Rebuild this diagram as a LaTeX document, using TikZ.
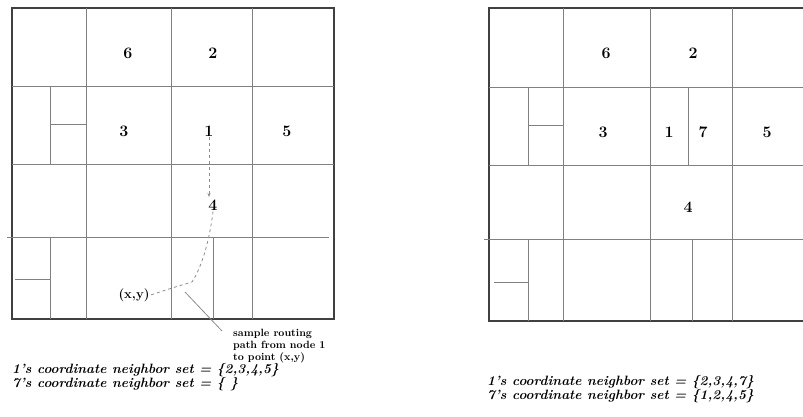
\documentclass[tikz,border=0pt]{standalone}
\usetikzlibrary{arrows.meta}
\begin{document}
\begin{tikzpicture}[x=1pt,y=-1pt,
    frame/.style={line width=1.8pt,draw=black!75},
    cell/.style={line width=0.9pt,draw=black!50},
    zone/.style={font=\fontsize{16}{16}\selectfont\bfseries,inner sep=1pt},
    route/.style={dashed,line width=0.8pt,draw=black!45},
    setlist/.style={font=\fontsize{13.5}{11}\selectfont\bfseries\itshape,align=left,inner sep=0pt,anchor=north west}]
  \useasboundingbox (0,0) rectangle (803,416);

  % before node 7 joins
  \draw[frame] (12,8) rectangle (334,319);
  \draw[cell] (86,8) -- (86,319);
  \draw[cell] (171,8) -- (171,319);
  \draw[cell] (252,8) -- (252,319);
  \draw[cell] (12,86) -- (334,86);
  \draw[cell] (12,164) -- (334,164);
  \draw[cell] (7,237) -- (329,237);
  \draw[cell] (50,86) -- (50,164);
  \draw[cell] (50,124) -- (86,124);
  \draw[cell] (50,237) -- (50,319);
  \draw[cell] (15,279) -- (50,279);
  \draw[cell] (213,237) -- (213,319);
  \node[zone] (a6) at (128,53) {6};
  \node[zone] (a2) at (213,53) {2};
  \node[zone] (a3) at (124,131) {3};
  \node[zone] (a1) at (209,131) {1};
  \node[zone] (a5) at (287,131) {5};
  \node[zone] (a4) at (213,205) {4};
  \node[zone,font=\fontsize{13}{13}\selectfont\bfseries] (xy) at (134,295) {(x,y)};
  \coordinate (bend) at (192,282);
  \draw[route,-{Stealth[length=4pt,width=3pt]}] (a1.south -| 209,0) -- (209,197);
  \draw[route] (a4.south) .. controls (209,245) and (200,270) .. (bend)
    .. controls (175,287) .. (xy.east);
  \node[font=\fontsize{10.5}{12.2}\selectfont\bfseries,align=left,inner sep=0pt,anchor=north west]
    (note) at (233,329) {sample routing\\path from node 1\\to point (x,y)};
  \coordinate (tip) at (185,292);
  \draw[line width=0.8pt,black!45] ([xshift=-11pt,yshift=-2pt]note.north west) -- (tip);
  \node[setlist] (setsL) at (12,363)
    {1's coordinate neighbor set = \{2,3,4,5\}\\7's coordinate neighbor set = \{ \}};

  % after node 7 joins
  \draw[frame] (489,8) rectangle (811,321);
  \draw[cell] (563,8) -- (563,321);
  \draw[cell] (650,8) -- (650,321);
  \draw[cell] (732,8) -- (732,321);
  \draw[cell] (489,87) -- (811,87);
  \draw[cell] (489,165) -- (811,165);
  \draw[cell] (484,239) -- (811,239);
  \draw[cell] (528,87) -- (528,165);
  \draw[cell] (528,125) -- (563,125);
  \draw[cell] (688,87) -- (688,165);
  \draw[cell] (528,239) -- (528,321);
  \draw[cell] (494,282) -- (528,282);
  \draw[cell] (692,239) -- (692,321);
  \node[zone] (b6) at (606,53) {6};
  \node[zone] (b2) at (693,53) {2};
  \node[zone] (b3) at (603,132) {3};
  \node[zone] (b1) at (669,132) {1};
  \node[zone] (b7) at (703,132) {7};
  \node[zone] (b5) at (767,132) {5};
  \node[zone] (b4) at (688,207) {4};
  \node[setlist] (setsR) at (487,375)
    {1's coordinate neighbor set = \{2,3,4,7\}\\7's coordinate neighbor set = \{1,2,4,5\}};
\end{tikzpicture}
\end{document}
